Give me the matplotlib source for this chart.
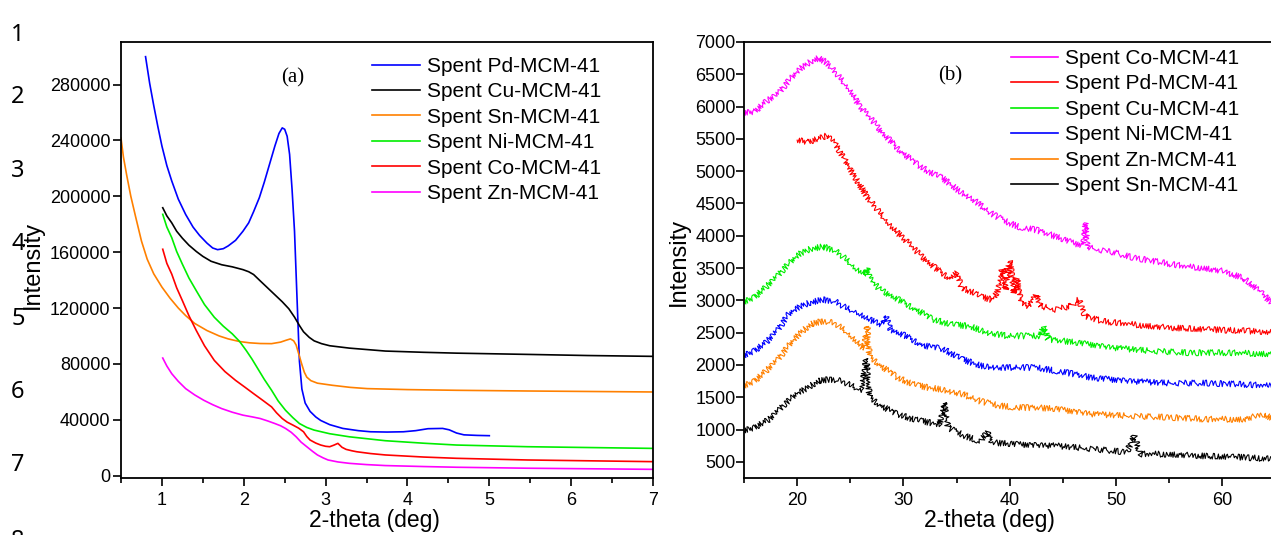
import matplotlib
matplotlib.use("Agg")
import matplotlib.pyplot as plt
from matplotlib.ticker import MultipleLocator

plt.rcParams['font.family'] = ['Liberation Sans', 'DejaVu Sans']

# ---------------- panel (a): low-angle XRD ----------------
pd_x = [0.80, 0.85, 0.90, 0.95, 1.00, 1.06, 1.12, 1.20, 1.29, 1.38, 1.46, 1.55, 1.62,
        1.68, 1.75, 1.81, 1.90, 1.99, 2.06, 2.12, 2.19, 2.25, 2.32, 2.38, 2.43, 2.47,
        2.50, 2.53, 2.56, 2.59, 2.62, 2.65, 2.68, 2.71, 2.75, 2.81, 2.88, 2.94, 3.05,
        3.21, 3.40, 3.55, 3.75, 3.95, 4.10, 4.25, 4.43, 4.51, 4.60, 4.69, 4.85, 5.00]
pd_y = [300000, 281000, 265000, 250000, 236000, 222000, 211000, 198000, 187000, 178000,
        172000, 166500, 163000, 161800, 162500, 164500, 168500, 175000, 181000, 189000,
        199000, 210000, 224000, 236000, 245000, 249000, 248000, 243000, 230000, 205000,
        175000, 128000, 82000, 62000, 52000, 46000, 42000, 39500, 36500, 33800, 32200,
        31400, 31200, 31400, 32200, 33600, 33800, 32800, 30500, 29200, 28800, 28600]

cu_x = [1.01, 1.06, 1.12, 1.18, 1.25, 1.33, 1.42, 1.50, 1.60, 1.73, 1.86, 1.99, 2.06,
        2.12, 2.20, 2.29, 2.38, 2.47, 2.55, 2.62, 2.68, 2.73, 2.80, 2.86, 2.95, 3.05,
        3.29, 3.73, 4.20, 4.60, 5.47, 6.20, 7.00]
cu_y = [191800, 186000, 181000, 175000, 170000, 165000, 160500, 157000, 153500, 151000,
        149500, 147500, 146000, 144000, 139500, 134500, 129500, 124500, 119500, 113500,
        107500, 103000, 99000, 96500, 94500, 93000, 91300, 89200, 88300, 87700, 86800,
        86000, 85400]

sn_x = [0.50, 0.53, 0.57, 0.62, 0.68, 0.75, 0.82, 0.90, 1.00, 1.10, 1.20, 1.29, 1.40,
        1.55, 1.70, 1.81, 1.95, 2.07, 2.20, 2.34, 2.45, 2.52, 2.57, 2.61, 2.64, 2.67,
        2.71, 2.74, 2.77, 2.82, 2.90, 3.08, 3.30, 3.51, 4.00, 4.60, 5.47, 7.00]
sn_y = [241700, 228000, 215000, 200000, 185000, 168000, 155000, 144500, 135000, 127000,
        120000, 114600, 109000, 103900, 100000, 97900, 96000, 95100, 94600, 94500,
        95600, 97000, 97900, 96500, 93500, 87500, 79500, 74000, 70500, 68000, 66200,
        64700, 63200, 62300, 61600, 61100, 60600, 59900]

ni_x = [1.01, 1.06, 1.12, 1.18, 1.25, 1.33, 1.42, 1.52, 1.64, 1.75, 1.86, 1.95, 2.03,
        2.10, 2.16, 2.25, 2.34, 2.42, 2.51, 2.60, 2.68, 2.77, 2.86, 3.05, 3.29, 3.73,
        4.20, 4.60, 5.47, 7.00]
ni_y = [187100, 178000, 170400, 160500, 151400, 141500, 132400, 122500, 113400, 107000,
        101500, 96000, 89600, 83500, 77700, 69000, 61100, 53500, 46800, 41500, 37300,
        34500, 32600, 30000, 27800, 25000, 23200, 21900, 20700, 19500]

co_x = [1.01, 1.06, 1.12, 1.18, 1.25, 1.33, 1.42, 1.52, 1.64, 1.77, 1.90, 2.01, 2.12,
        2.23, 2.34, 2.40, 2.47, 2.53, 2.60, 2.67, 2.73, 2.77, 2.81, 2.88, 2.94, 3.00,
        3.05, 3.10, 3.15, 3.20, 3.25, 3.32, 3.38, 3.55, 3.73, 4.20, 4.60, 5.47, 7.00]
co_y = [162100, 152000, 144300, 134500, 125300, 114500, 103900, 93000, 82500, 74500,
        68200, 63500, 58700, 54000, 49200, 45000, 40900, 38300, 36200, 34000, 31400,
        28000, 25500, 23300, 21900, 21000, 20700, 21800, 23100, 20300, 18800, 17800,
        17100, 15800, 14800, 13300, 12400, 11200, 10000]

zn_x = [1.01, 1.06, 1.12, 1.20, 1.29, 1.40, 1.51, 1.62, 1.73, 1.86, 1.99, 2.10, 2.20,
        2.29, 2.38, 2.45, 2.51, 2.58, 2.64, 2.70, 2.77, 2.84, 2.90, 2.97, 3.03, 3.15,
        3.29, 3.50, 3.73, 4.20, 4.60, 5.47, 7.00]
zn_y = [84200, 78500, 73000, 67500, 62300, 57800, 54000, 50800, 48000, 45400, 43300,
        42100, 40900, 39200, 37300, 35700, 33800, 31000, 27800, 24000, 20700, 17400,
        14800, 12700, 11200, 9800, 8800, 7900, 7200, 6500, 6000, 5300, 4500]

series_a = [
    ("Spent Pd-MCM-41", pd_x, pd_y, "#0000ff"),
    ("Spent Cu-MCM-41", cu_x, cu_y, "#000000"),
    ("Spent Sn-MCM-41", sn_x, sn_y, "#ff8000"),
    ("Spent Ni-MCM-41", ni_x, ni_y, "#00ee00"),
    ("Spent Co-MCM-41", co_x, co_y, "#ff0000"),
    ("Spent Zn-MCM-41", zn_x, zn_y, "#ff00ff"),
]

# ---------------- panel (b): wide-angle XRD ----------------
b_co_x = [15.0, 16.0, 17.1, 18.2, 19.2, 20.3, 21.3, 22.0, 22.8, 23.8, 24.9, 25.9, 27.0,
          28.1, 29.5, 30.9, 32.3, 33.7, 35.1, 36.6, 38.0, 39.4, 40.8, 42.5, 44.3, 46.1,
          46.9, 47.1, 47.3, 47.8, 49.6, 51.4, 53.1, 54.9, 56.7, 58.4, 60.2, 62.0, 63.4,
          65.0]
b_co_y = [5900, 5920, 6080, 6200, 6400, 6590, 6700, 6750, 6680, 6490, 6260, 6000, 5800,
          5580, 5350, 5150, 5000, 4890, 4710, 4560, 4370, 4240, 4140, 4090, 3990, 3880,
          3850, 4200, 3840, 3800, 3750, 3670, 3620, 3570, 3520, 3500, 3450, 3340, 3160,
          2900]

b_pd_x = [20.0, 21.0, 22.0, 22.8, 23.5, 24.5, 25.6, 26.6, 27.7, 28.8, 30.2, 31.6, 33.0,
          34.4, 35.0, 35.5, 36.5, 37.2, 38.3, 38.8, 39.3, 39.6, 40.0, 40.4, 40.7, 41.1,
          41.8, 42.5, 42.9, 44.3, 45.7, 46.5, 47.1, 48.6, 51.4, 54.9, 58.4, 62.0, 65.0]
b_pd_y = [5480, 5450, 5500, 5550, 5450, 5170, 4860, 4600, 4370, 4140, 3930, 3700, 3500,
          3340, 3420, 3190, 3130, 3060, 3010, 3110, 3500, 3160, 3620, 3110, 3340, 2960,
          2910, 3090, 2910, 2860, 2910, 3010, 2760, 2680, 2630, 2580, 2550, 2530, 2500]

b_cu_x = [15.0, 16.0, 17.1, 18.2, 19.2, 20.3, 21.3, 22.4, 23.5, 24.5, 25.6, 26.5, 26.6,
          26.8, 27.7, 29.1, 30.9, 32.7, 34.4, 36.2, 38.0, 39.7, 41.5, 42.9, 43.2, 43.6,
          46.1, 49.6, 53.1, 56.7, 60.2, 65.0]
b_cu_y = [2970, 3050, 3210, 3390, 3570, 3730, 3800, 3830, 3780, 3650, 3470, 3400, 3500,
          3350, 3180, 3050, 2890, 2710, 2630, 2600, 2500, 2450, 2450, 2450, 2610, 2400,
          2350, 2270, 2220, 2190, 2190, 2170]

b_ni_x = [15.0, 16.0, 17.1, 18.2, 19.2, 20.3, 21.3, 22.4, 23.5, 24.5, 25.6, 26.6, 28.1,
          28.3, 28.8, 30.2, 31.9, 33.7, 35.5, 37.2, 39.0, 40.8, 42.5, 44.3, 46.1, 47.8,
          51.4, 54.9, 58.4, 62.0, 65.0]
b_ni_y = [2140, 2220, 2350, 2550, 2790, 2910, 2970, 3010, 2990, 2890, 2810, 2710, 2620,
          2760, 2550, 2450, 2300, 2250, 2090, 1990, 1960, 1960, 1960, 1910, 1860, 1800,
          1750, 1720, 1720, 1700, 1670]

b_zn_x = [15.0, 16.0, 17.1, 18.2, 19.2, 20.3, 21.3, 22.4, 23.5, 24.5, 25.6, 26.3, 26.6,
          26.8, 28.1, 29.5, 30.9, 32.3, 33.7, 35.5, 37.2, 39.0, 40.8, 42.5, 44.3, 47.8,
          51.4, 54.9, 58.4, 62.0, 63.9, 65.0]
b_zn_y = [1670, 1750, 1910, 2090, 2300, 2500, 2630, 2680, 2650, 2530, 2350, 2250, 2600,
          2140, 1960, 1800, 1700, 1650, 1620, 1550, 1440, 1370, 1340, 1340, 1320, 1240,
          1210, 1190, 1160, 1160, 1240, 1140]

b_sn_x = [15.0, 16.0, 17.4, 18.8, 19.9, 21.0, 22.0, 23.1, 24.2, 25.2, 26.1, 26.5, 26.8,
          27.7, 29.1, 30.9, 32.7, 33.4, 33.8, 34.2, 35.8, 37.2, 37.9, 38.3, 40.8, 44.3,
          47.8, 51.0, 51.7, 52.3, 54.9, 58.4, 62.0, 65.0]
b_sn_y = [980, 1030, 1160, 1390, 1550, 1650, 1750, 1780, 1750, 1670, 1600, 2100, 1520,
          1390, 1260, 1160, 1100, 1080, 1420, 1030, 900, 820, 950, 800, 770, 750,
          700, 650, 900, 620, 620, 590, 570, 540]

series_b = [
    ("Spent Co-MCM-41", b_co_x, b_co_y, "#ff00ff"),
    ("Spent Pd-MCM-41", b_pd_x, b_pd_y, "#ff0000"),
    ("Spent Cu-MCM-41", b_cu_x, b_cu_y, "#00ee00"),
    ("Spent Ni-MCM-41", b_ni_x, b_ni_y, "#0000ff"),
    ("Spent Zn-MCM-41", b_zn_x, b_zn_y, "#ff8000"),
    ("Spent Sn-MCM-41", b_sn_x, b_sn_y, "#000000"),
]

W, H = 1271, 535
fig = plt.figure(figsize=(W / 100, H / 100), dpi=100)

# axes boxes in pixels (left, top, right, bottom)
ax1 = fig.add_axes([121 / W, 1 - 478 / H, 532 / W, 436 / H])
ax2 = fig.add_axes([744 / W, 1 - 478 / H, 531.5 / W, 436 / H])

for ax in (ax1, ax2):
    for sp in ax.spines.values():
        sp.set_linewidth(1.3)
    ax.tick_params(which='major', direction='out', length=6, width=1.2, labelsize=13)
    ax.tick_params(which='minor', direction='out', length=3.5, width=1.2)
    ax.tick_params(axis='x', pad=4)

# ----- panel (a)
for label, xs, ys, c in series_a:
    ax1.plot(xs, ys, color=c, lw=1.2, label=label)
ax1.set_xlim(0.5, 7)
ax1.set_ylim(-1700, 310500)
ax1.xaxis.set_major_locator(MultipleLocator(1))
ax1.xaxis.set_minor_locator(MultipleLocator(0.5))
ax1.yaxis.set_major_locator(MultipleLocator(40000))
ax1.ticklabel_format(axis='y', style='plain', useOffset=False)
ax1.tick_params(axis='y', pad=1.5)
ax1.set_xlabel("2-theta (deg)", fontsize=16.5)
ax1.xaxis.set_label_coords(0.476, -0.070)
ax1.set_ylabel("Intensity", fontsize=17)
ax1.yaxis.set_label_coords(-0.145, 0.489)
ax1.text(0.322, 0.918, "(a)", transform=ax1.transAxes, ha='center', va='center',
         fontsize=15, family='Liberation Serif')
leg1 = ax1.legend(loc='upper left', bbox_to_anchor=(0.472, 0.966), frameon=False,
                  fontsize=15, handlelength=2.3, handletextpad=0.34, labelspacing=0.31,
                  borderpad=0, borderaxespad=0)

# ----- panel (b): noisy scans, the noise is drawn as a line style (sketch)
for label, xs, ys, c in series_b:
    ln, = ax2.plot(xs, ys, color=c, lw=0.8, label=label)
    ln.set_sketch_params(scale=3.0, length=0.7, randomness=4)
ax2.set_xlim(15, 65)
ax2.set_ylim(250, 7000)
ax2.xaxis.set_major_locator(MultipleLocator(10))
ax2.xaxis.set_minor_locator(MultipleLocator(5))
ax2.set_yticks(range(500, 7001, 500))
ax2.tick_params(axis='y', pad=0)
ax2.set_xlabel("2-theta (deg)", fontsize=16.5)
ax2.xaxis.set_label_coords(0.462, -0.070)
ax2.set_ylabel("Intensity", fontsize=17)
ax2.yaxis.set_label_coords(-0.102, 0.495)
ax2.text((950 - 744) / 531.5, (478 - 76) / 436, "(b)", transform=ax2.transAxes,
         ha='center', va='center', fontsize=15, family='Liberation Serif')
leg2 = ax2.legend(loc='upper left', bbox_to_anchor=(0.502, 0.984), frameon=False,
                  fontsize=15, handlelength=2.26, handletextpad=0.34, labelspacing=0.31,
                  borderpad=0, borderaxespad=0)
for hl in leg2.get_lines():
    hl.set_sketch_params(None)
    hl.set_linewidth(1.2)

# line numbers of the source document, down the left margin
line_nums = ["1", "2", "3", "4", "5", "6", "7", "8"]
line_y = [35, 97, 171, 244, 319, 392, 465, 541]
for s, yy in zip(line_nums, line_y):
    fig.text(18 / W, 1 - yy / H, s, ha='center', va='center', fontsize=17,
             family='Noto Sans')

fig.savefig("out.png", dpi=100)
